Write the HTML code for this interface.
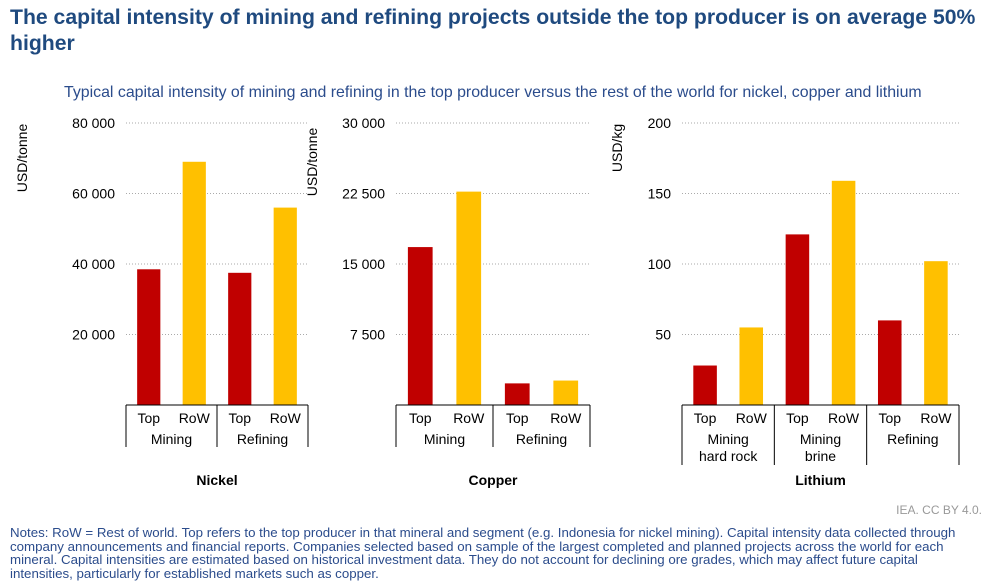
<!DOCTYPE html>
<html><head><meta charset="utf-8"><style>
body{margin:0;width:990px;height:587px;background:#fff;font-family:"Liberation Sans",Arial,sans-serif;overflow:hidden;position:relative}
#title{position:absolute;left:10px;top:5px;width:978px;font-size:21.2px;font-weight:bold;color:#1F4A7F;line-height:26px}
#sub{position:absolute;left:64px;top:84px;font-size:15.9px;color:#2B4C8C;white-space:nowrap}
#notes{position:absolute;left:10px;top:526px;width:958px;font-size:13.3px;color:#2B4C8C;line-height:13.5px}
#src{position:absolute;right:8px;top:503px;font-size:12px;color:#999}
svg{position:absolute;left:0;top:0}
</style></head><body>
<div id="title">The capital intensity of mining and refining projects outside the top producer is on average 50% higher</div>
<div id="sub">Typical capital intensity of mining and refining in the top producer versus the rest of the world for nickel, copper and lithium</div>
<svg id="chart" width="990" height="587"></svg>
<div id="src">IEA. CC BY 4.0.</div>
<div id="notes">Notes: RoW = Rest of world. Top refers to the top producer in that mineral and segment (e.g. Indonesia for nickel mining). Capital intensity data collected through company announcements and financial reports. Companies selected based on sample of the largest completed and planned projects across the world for each mineral. Capital intensities are estimated based on historical investment data. They do not account for declining ore grades, which may affect future capital intensities, particularly for established markets such as copper.</div>
<script>
const nickelValues=[38500,69000,37500,56000];
const nickelGroups=[["Mining"],["Refining"]];
const nickelTicks=[20000,40000,60000,80000];
const nickelTickLabels=["20 000","40 000","60 000","80 000"];
const copperValues=[16800,22700,2300,2600];
const copperGroups=[["Mining"],["Refining"]];
const copperTicks=[7500,15000,22500,30000];
const copperTickLabels=["7 500","15 000","22 500","30 000"];
const lithiumValues=[28,55,121,159,60,102];
const lithiumGroups=[["Mining","hard rock"],["Mining","brine"],["Refining"]];
const lithiumTicks=[50,100,150,200];
const lithiumTickLabels=["50","100","150","200"];
const seriesLabels=["Top","RoW"];
const colors=["#C00000","#FFC000"];

const svg=document.getElementById('chart');
const NS="http://www.w3.org/2000/svg";
function mk(tag,attrs,text){const e=document.createElementNS(NS,tag);for(const k in attrs)e.setAttribute(k,attrs[k]);if(text!==undefined)e.textContent=text;svg.appendChild(e);return e;}

function drawChart(cfg){
  const {name,values,groups,ticks,tickLabels,max,x0,x1,boxBottom,unit,unitX,unitY}=cfg;
  const yTop=123,yBot=405;
  const y=v=>yBot-(v/max)*(yBot-yTop);
  const n=values.length;
  const slot=(x1-x0)/n;
  const bw=slot*0.51;
  ticks.forEach((t,i)=>{
    const g=mk('line',{x1:x0,x2:x1,y1:y(t),y2:y(t),stroke:'#aaa','stroke-width':1,'stroke-dasharray':'1,2'});
    
    
    const l=mk('text',{x:x0-11,y:y(t)+5,'text-anchor':'end','font-size':14,fill:'#000'},tickLabels[i]);
    
    
  });
  values.forEach((v,i)=>{
    const cx=x0+slot*(i+0.5);
    const r=mk('rect',{x:cx-bw/2,y:y(v),width:bw,height:yBot-y(v),fill:colors[i%2]});
    
    
    const t=mk('text',{x:cx,y:yBot+18,'text-anchor':'middle','font-size':14,fill:'#000'},seriesLabels[i%2]);
    
    
  });
  const ax=mk('line',{x1:x0,x2:x1,y1:yBot,y2:yBot,stroke:'#000','stroke-width':1});
  
  
  const gw=(x1-x0)/groups.length;
  for(let g=0;g<=groups.length;g++){
    const xx=x0+gw*g;
    const d=mk('line',{x1:xx,x2:xx,y1:yBot,y2:boxBottom,stroke:'#000','stroke-width':1});
    
    
  }
  groups.forEach((lines,g)=>{
    lines.forEach((s,k)=>{
      const t=mk('text',{x:x0+gw*(g+0.5),y:yBot+39+k*17,'text-anchor':'middle','font-size':14,fill:'#000'},s);
      
      
    });
  });
  const ti=mk('text',{x:(x0+x1)/2,y:485,'text-anchor':'middle','font-size':14,'font-weight':'bold',fill:'#000'},cfg.title);
  
  
  const u=mk('text',{x:unitX,y:unitY,'text-anchor':'middle','font-size':14,fill:'#000',transform:`rotate(-90 ${unitX} ${unitY})`},unit);
  
  
}
drawChart({name:'nickel',title:'Nickel',values:nickelValues,groups:nickelGroups,ticks:nickelTicks,tickLabels:nickelTickLabels,max:80000,x0:126,x1:308,boxBottom:447,unit:'USD/tonne',unitX:27,unitY:158});
drawChart({name:'copper',title:'Copper',values:copperValues,groups:copperGroups,ticks:copperTicks,tickLabels:copperTickLabels,max:30000,x0:396,x1:590,boxBottom:447,unit:'USD/tonne',unitX:317,unitY:162});
drawChart({name:'lithium',title:'Lithium',values:lithiumValues,groups:lithiumGroups,ticks:lithiumTicks,tickLabels:lithiumTickLabels,max:200,x0:682,x1:959,boxBottom:465,unit:'USD/kg',unitX:622,unitY:148});
</script>
</body></html>
